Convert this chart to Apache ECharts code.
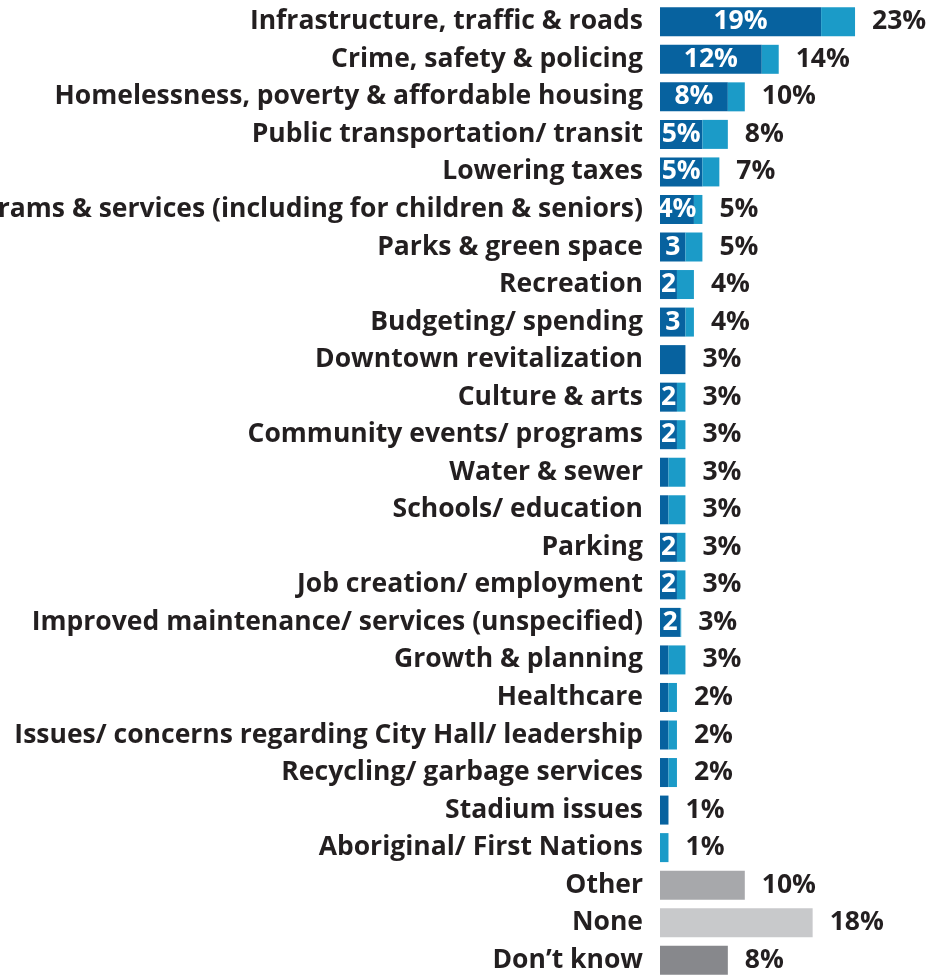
<!DOCTYPE html>
<html>
<head>
<meta charset="utf-8">
<script src="https://cdn.jsdelivr.net/npm/echarts@6/dist/echarts.min.js"></script>
<style>
  html, body { margin: 0; padding: 0; background: #ffffff; }
  #chart { width: 930px; height: 977px; }
</style>
</head>
<body>
<div id="chart"></div>
<script>
// Topics mentioned, top to bottom
const topics = [
  'Infrastructure, traffic & roads',
  'Crime, safety & policing',
  'Homelessness, poverty & affordable housing',
  'Public transportation/ transit',
  'Lowering taxes',
  'Programs & services (including for children & seniors)',
  'Parks & green space',
  'Recreation',
  'Budgeting/ spending',
  'Downtown revitalization',
  'Culture & arts',
  'Community events/ programs',
  'Water & sewer',
  'Schools/ education',
  'Parking',
  'Job creation/ employment',
  'Improved maintenance/ services (unspecified)',
  'Growth & planning',
  'Healthcare',
  'Issues/ concerns regarding City Hall/ leadership',
  'Recycling/ garbage services',
  'Stadium issues',
  'Aboriginal/ First Nations'
];
// First mention (%)
const firstMention = [19, 12, 8, 5, 5, 4, 3, 2, 3, 3, 2, 2, 1, 1, 2, 2, 2.4, 1, 1, 1, 1, 1, 0];
// Total mentions (%)
const totalMentions = [23, 14, 10, 8, 7, 5, 5, 4, 4, 3, 3, 3, 3, 3, 3, 3, 2.5, 3, 2, 2, 2, 1, 1];
// Whether the first-mention value is printed inside the dark bar
const showFirstLabel = [1, 1, 1, 1, 1, 1, 1, 1, 1, 0, 1, 1, 0, 0, 1, 1, 1, 0, 0, 0, 0, 0, 0];
// Remaining responses
const otherCats = ['Other', 'None', 'Don\u2019t know'];
const otherValues = [10, 18, 8];
const otherColors = ['#a7a8ab', '#c8c9cb', '#87888c'];

const categories = topics.concat(otherCats);
const FONT = '"Open Sans"';
const TEXT = '#231f20';
const FS = 26.5;

const darkData = firstMention.map(v => v).concat(otherCats.map(() => '-'));
const lightData = totalMentions.map((t, i) => +(t - firstMention[i]).toFixed(2)).concat(otherCats.map(() => '-'));
const greyData = topics.map(() => '-').concat(otherValues.map((v, i) => ({
  value: v, itemStyle: { color: otherColors[i] }
})));

const chart = echarts.init(document.getElementById('chart'), null, { renderer: 'canvas' });
chart.setOption({
  animation: false,
  grid: {
    left: 660, top: 3, height: 976, width: 254.4,
    containLabel: false,
    outerBoundsMode: 'none'
  },
  xAxis: {
    type: 'value', min: 0, max: 30,
    show: false
  },
  yAxis: {
    type: 'category',
    data: categories,
    inverse: true,
    axisLine: { show: false },
    axisTick: { show: false },
    axisLabel: {
      margin: 17,
      fontFamily: FONT,
      fontWeight: 'bold',
      fontSize: FS,
      color: TEXT
    }
  },
  series: [
    {
      name: 'First mention',
      type: 'bar',
      stack: 'm',
      barWidth: 29,
      data: darkData,
      itemStyle: { color: '#07629f' },
      label: {
        show: true,
        position: 'inside',
        color: '#ffffff',
        fontFamily: FONT,
        fontWeight: 'bold',
        fontSize: FS,
        formatter: p => {
          const i = p.dataIndex;
          if (!showFirstLabel[i]) return '';
          const v = Math.round(firstMention[i]);
          return v >= 4 ? v + '%' : String(v);
        }
      }
    },
    {
      name: 'Total mentions',
      type: 'bar',
      stack: 'm',
      barWidth: 29,
      data: lightData,
      itemStyle: { color: '#1b9bc8' },
      label: {
        show: true,
        position: 'right',
        distance: 17,
        color: TEXT,
        fontFamily: FONT,
        fontWeight: 'bold',
        fontSize: FS,
        formatter: p => Math.round(totalMentions[p.dataIndex]) + '%'
      }
    },
    {
      name: 'Other responses',
      type: 'bar',
      stack: 'm',
      barWidth: 29,
      data: greyData,
      label: {
        show: true,
        position: 'right',
        distance: 17,
        color: TEXT,
        fontFamily: FONT,
        fontWeight: 'bold',
        fontSize: FS,
        formatter: p => p.value + '%'
      }
    }
  ]
});
</script>
</body>
</html>
